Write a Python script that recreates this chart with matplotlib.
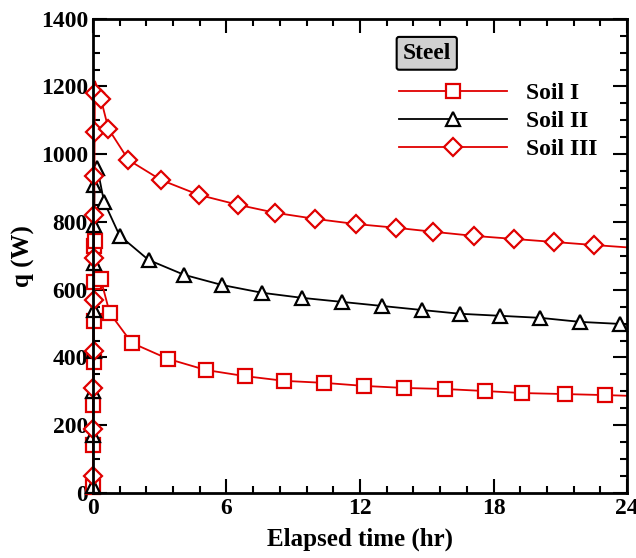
import numpy as np
import matplotlib.pyplot as plt
from matplotlib.ticker import MultipleLocator

# Soil I (red squares)
t_soil1 = [0.0, 0.01, 0.02, 0.03, 0.04, 0.05, 0.06, 0.08, 0.35, 0.76, 1.75, 3.37, 5.08,
           6.83, 8.6, 10.4, 12.2, 14.0, 15.8, 17.6, 19.3, 21.2, 23.0, 24.0]
q_soil1 = [18, 142, 260, 387, 508, 623, 730, 745, 632, 531, 443, 396, 363,
           345, 331, 325, 316, 310, 307, 301, 295, 292, 289, 287]

# Soil II (black triangles)
t_soil2 = [0.0, 0.01, 0.02, 0.03, 0.04, 0.05, 0.06, 0.07, 0.08, 0.2, 0.5, 1.2, 2.5, 4.1,
           5.8, 7.6, 9.4, 11.2, 13.0, 14.8, 16.5, 18.3, 20.1, 21.9, 23.7, 24.0]
q_soil2 = [20, 170, 300, 420, 540, 680, 790, 910, 975, 960, 860, 760, 688, 644,
           614, 591, 576, 564, 552, 540, 529, 523, 517, 505, 499, 497]

# Soil III (red diamonds)
t_soil3 = [0.0, 0.01, 0.02, 0.03, 0.04, 0.05, 0.06, 0.07, 0.08, 0.09, 0.1, 0.36, 0.7,
           1.6, 3.06, 4.76, 6.5, 8.2, 10.0, 11.8, 13.6, 15.3, 17.1, 18.9, 20.7, 22.5, 24.0]
q_soil3 = [50, 190, 310, 420, 570, 695, 820, 935, 1065, 1180, 1215, 1163, 1075,
           983, 924, 880, 851, 827, 809, 794, 783, 771, 759, 750, 741, 732, 725]

plt.rcParams["font.family"] = "Liberation Serif"
plt.rcParams["font.weight"] = "bold"

red = "#e00000"

fig = plt.figure(figsize=(6.36, 5.58), dpi=100)
ax = fig.add_axes([0.146, 0.1165, 0.84, 0.85])

mk = dict(markersize=10, markerfacecolor="white", markeredgewidth=1.6, linewidth=1.3,
          clip_on=False, zorder=3)
# no marker on the peak / end points
ax.plot(t_soil1, q_soil1, color=red, marker="s", label="Soil I",
        markevery=list(range(len(t_soil1) - 1)), **mk)
ax.plot(t_soil2, q_soil2, color="black", marker="^", label="Soil II",
        markevery=[i for i in range(len(t_soil2) - 1) if i != 8], **mk)
ax.plot(t_soil3, q_soil3, color=red, marker="D", label="Soil III",
        markevery=[i for i in range(len(t_soil3) - 1) if i != 10],
        **{**mk, "markersize": 9})

ax.set_xlim(0, 24)
ax.set_ylim(0, 1400)
ax.xaxis.set_major_locator(MultipleLocator(6))
ax.xaxis.set_minor_locator(MultipleLocator(1.2))
ax.yaxis.set_major_locator(MultipleLocator(200))
ax.yaxis.set_minor_locator(MultipleLocator(50))
ax.tick_params(which="both", direction="in", top=True, right=True, width=1.5,
               labelsize=17)
ax.tick_params(which="major", length=10)
ax.tick_params(which="minor", length=5)
for s in ax.spines.values():
    s.set_linewidth(2)
    s.set_zorder(4)

ax.set_xlabel("Elapsed time (hr)", fontsize=18, fontweight="bold", labelpad=6)
ax.set_ylabel("q (W)", fontsize=18, fontweight="bold", labelpad=4)

leg = ax.legend(loc="upper right", bbox_to_anchor=(0.945, 0.866), frameon=False,
                handlelength=4.6, numpoints=1, fontsize=17, labelspacing=0.28,
                handletextpad=0.8, borderpad=0, borderaxespad=0)
ax.text(0.625, 0.927, "Steel", transform=ax.transAxes, fontsize=17,
        fontweight="bold", ha="center", va="center",
        bbox=dict(boxstyle="round,pad=0.25,rounding_size=0.1",
                  facecolor="#d0d0d0", edgecolor="black", linewidth=1.5))

fig.savefig("out.png")
